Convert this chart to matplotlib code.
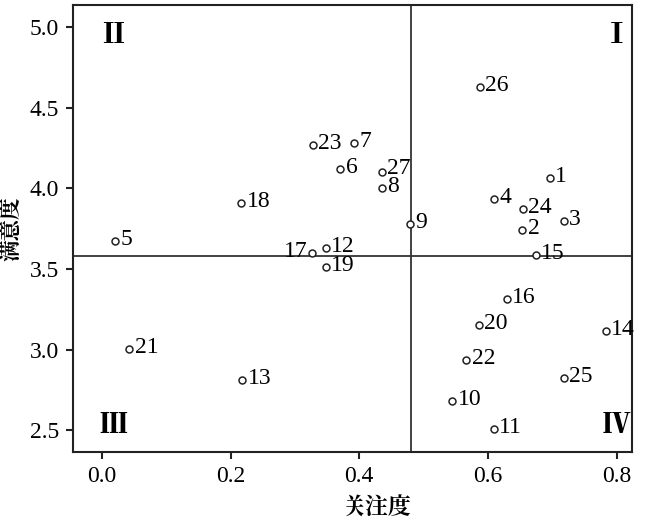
import matplotlib
matplotlib.use("Agg")
import matplotlib.pyplot as plt
from matplotlib import font_manager as fm

ids = [str(i) for i in range(1, 28)]
attention = [0.696, 0.653, 0.718, 0.609, 0.020, 0.370, 0.392, 0.435, 0.479, 0.544,
             0.609, 0.348, 0.218, 0.783, 0.674, 0.629, 0.326, 0.216, 0.348, 0.586,
             0.042, 0.566, 0.328, 0.654, 0.718, 0.587, 0.435]
satisfaction = [4.064, 3.741, 3.797, 3.934, 3.673, 4.120, 4.281, 4.002, 3.779, 2.681,
                2.508, 3.630, 2.812, 3.115, 3.586, 3.314, 3.599, 3.909, 3.512, 3.153,
                3.004, 2.936, 4.268, 3.872, 2.824, 4.628, 4.101]
mean_attention = 0.48
mean_satisfaction = 3.58
xticks = [0.0, 0.2, 0.4, 0.6, 0.8]
yticks = [2.5, 3.0, 3.5, 4.0, 4.5, 5.0]
quadrants = ["Ⅰ", "Ⅱ", "Ⅲ", "Ⅳ"]


def fontfile(family, weight="normal"):
    try:
        return fm.findfont(fm.FontProperties(family=family, weight=weight),
                           fallback_to_default=False)
    except Exception:
        return None


def fp(family, size, weight="normal", alt="DejaVu Serif"):
    path = fontfile(family, weight)
    if path:
        return fm.FontProperties(fname=path, size=size)
    return fm.FontProperties(family=alt, size=size, weight=weight)


serif_tick = fp("Liberation Serif", 17)
serif_lab = fp("Liberation Serif", 17)
roman_fp = fp("Noto Serif CJK JP", 20, "black")
cjk_x = fp("Noto Serif CJK JP", 16.5, "bold", alt="Noto Sans CJK SC")
cjk_y = fp("Noto Serif CJK JP", 15.5, "bold", alt="Noto Sans CJK SC")

fig = plt.figure(figsize=(6.5, 5.2), dpi=100)
ax = fig.add_axes([0.1123, 0.1308, 0.86, 0.8596])

ax.axvline(mean_attention, color="#333333", lw=1.3, zorder=1)
ax.axhline(mean_satisfaction, color="#333333", lw=1.3, zorder=1)

ax.plot(attention, satisfaction, ls="none", marker="o", ms=5, mfc="white",
        mec="#222222", mew=1.1, zorder=3)

for name, x, y in zip(ids, attention, satisfaction):
    if name == "17":
        ax.annotate(name, (x, y), xytext=(-3, 1), textcoords="offset points",
                    ha="right", va="center", fontproperties=serif_lab)
    elif name == "27":
        ax.annotate(name, (x, y), xytext=(4, 2.5), textcoords="offset points",
                    ha="left", va="center", fontproperties=serif_lab)
    else:
        ax.annotate(name, (x, y), xytext=(4, 1), textcoords="offset points",
                    ha="left", va="center", fontproperties=serif_lab)

ax.text(0.800, 4.95, quadrants[0], ha="center", va="center", fontproperties=roman_fp)
ax.text(0.017, 4.95, quadrants[1], ha="center", va="center", fontproperties=roman_fp)
ax.text(0.017, 2.533, quadrants[2], ha="center", va="center", fontproperties=roman_fp)
ax.text(0.800, 2.533, quadrants[3], ha="center", va="center", fontproperties=roman_fp)

ax.set_xlim(-0.045, 0.824)
ax.set_ylim(2.365, 5.136)
ax.set_xticks(xticks)
ax.set_yticks(yticks)
ax.set_xticklabels([f"{v:.1f}" for v in xticks], fontproperties=serif_tick)
ax.set_yticklabels([f"{v:.1f}" for v in yticks], fontproperties=serif_tick)
ax.tick_params(direction="out", length=5, width=1.5, color="#222222", pad=5)

for s in ax.spines.values():
    s.set_color("#222222")
    s.set_linewidth(1.5)

ax.set_xlabel("关注度", fontproperties=cjk_x)
ax.xaxis.set_label_coords(0.544, -0.098)
ax.set_ylabel("满意度", fontproperties=cjk_y)
ax.yaxis.set_label_coords(-0.088, 0.5)

fig.savefig("out.png", dpi=100)
